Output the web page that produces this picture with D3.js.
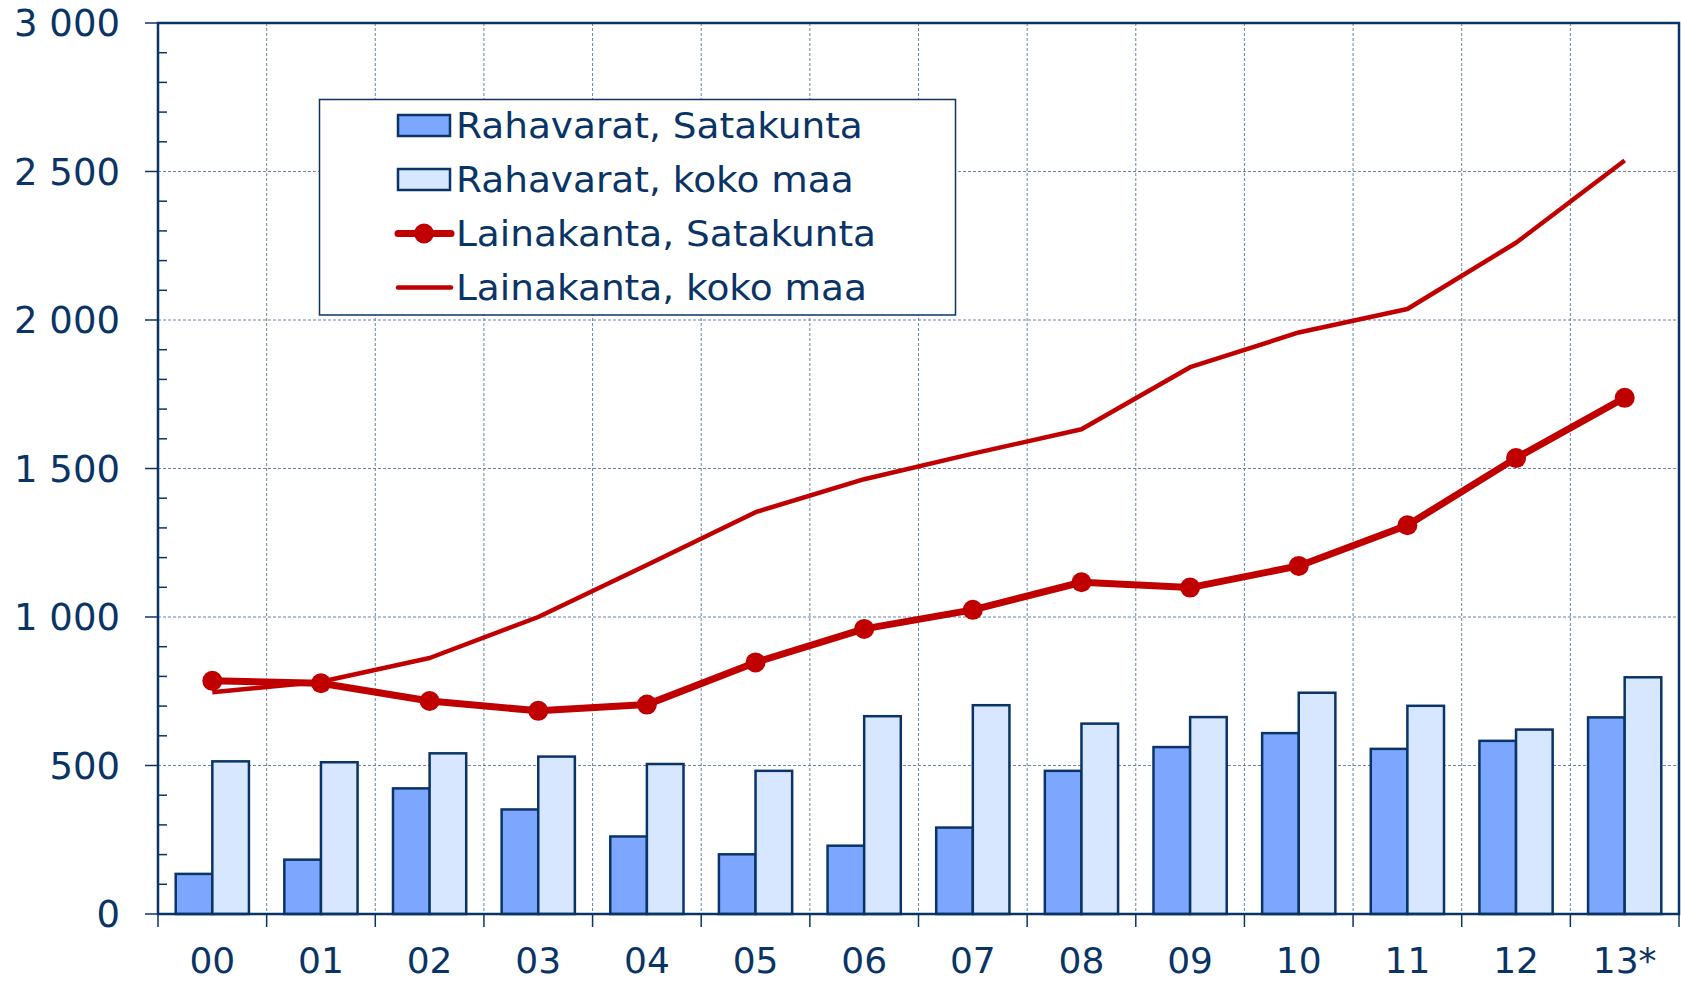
<!DOCTYPE html>
<html>
<head>
<meta charset="utf-8">
<script src="https://cdn.jsdelivr.net/npm/d3@7"></script>
<style>
  body { margin: 0; background: #fff; }
  svg { display: block; font-family: "DejaVu Sans", Verdana, sans-serif; }
</style>
</head>
<body>
<div id="chart-area"></div>
<script>
// chart data
var years = ["00", "01", "02", "03", "04", "05", "06", "07", "08", "09", "10", "11", "12", "13*"];
var rahaSatakunta = [135, 183, 423, 352, 261, 201, 230, 291, 482, 562, 609, 556, 583, 662];
var rahaKokoMaa   = [514, 511, 541, 530, 505, 482, 666, 703, 641, 663, 745, 701, 621, 797];
var lainaSatakunta = [785, 777, 717, 684, 705, 847, 960, 1024, 1117, 1099, 1172, 1309, 1535, 1738];
var lainaKokoMaa   = [747, 782, 862, 1000, 1175, 1353, 1464, 1550, 1632, 1841, 1958, 2037, 2260, 2537];
var yTicks = [0, 500, 1000, 1500, 2000, 2500, 3000];
var legendLabels = ["Rahavarat, Satakunta", "Rahavarat, koko maa", "Lainakanta, Satakunta", "Lainakanta, koko maa"];

var W = 1681, H = 982;
var plotL = 158, plotR = 1679, plotT = 23, plotB = 914;
var navy = "#0b3466", red = "#c00000";
var barFill = ["#7da7ff", "#d6e7ff"];

var svg = d3.select("#chart-area")
    .append("svg")
    .attr("width", W)
    .attr("height", H);

var x = d3.scaleBand()
    .domain(years)
    .range([plotL, plotR])
    .padding(0);

var y = d3.scaleLinear()
    .domain([0, 3000])
    .range([plotB, plotT]);

var bw = x.bandwidth();
var xs = d3.scaleBand()
    .domain([0, 1])
    .range([bw * 0.163, bw * 0.837]);

var fmt = d3.formatLocale({decimal: ",", thousands: " ", grouping: [3], currency: ["", ""]}).format(",");

// grid
var grid = svg.append("g").attr("stroke", "#4f6f99").attr("stroke-width", 1)
    .attr("stroke-dasharray", "3,2").attr("opacity", 0.85);
grid.selectAll("line.h")
    .data(yTicks.filter(function(d){ return d > 0 && d < 3000; }))
    .enter().append("line")
    .attr("x1", plotL).attr("x2", plotR)
    .attr("y1", function(d){ return y(d); })
    .attr("y2", function(d){ return y(d); });
grid.selectAll("line.v")
    .data(years.slice(1))
    .enter().append("line")
    .attr("x1", function(d){ return x(d); })
    .attr("x2", function(d){ return x(d); })
    .attr("y1", plotT).attr("y2", plotB);

// bars
var groups = svg.selectAll("g.year")
    .data(years)
    .enter().append("g")
    .attr("transform", function(d){ return "translate(" + x(d) + ",0)"; });

groups.each(function(d, i) {
    var vals = [rahaSatakunta[i], rahaKokoMaa[i]];
    d3.select(this).selectAll("rect")
        .data(vals)
        .enter().append("rect")
        .attr("x", function(v, j){ return xs(j); })
        .attr("width", xs.bandwidth())
        .attr("y", function(v){ return y(v); })
        .attr("height", function(v){ return plotB - y(v); })
        .attr("fill", function(v, j){ return barFill[j]; })
        .attr("stroke", navy)
        .attr("stroke-width", 2.5);
});

// lines
var cx = function(d, i){ return x(years[i]) + bw / 2; };
var line = d3.line()
    .x(cx)
    .y(function(d){ return y(d); });

svg.append("path")
    .datum(lainaKokoMaa)
    .attr("d", line)
    .attr("fill", "none")
    .attr("stroke", red)
    .attr("stroke-width", 4.5)
    .attr("stroke-linejoin", "round");

svg.append("path")
    .datum(lainaSatakunta)
    .attr("d", line)
    .attr("fill", "none")
    .attr("stroke", red)
    .attr("stroke-width", 7)
    .attr("stroke-linejoin", "round");

svg.selectAll("circle.pt")
    .data(lainaSatakunta)
    .enter().append("circle")
    .attr("cx", cx)
    .attr("cy", function(d){ return y(d); })
    .attr("r", 10)
    .attr("fill", red);

// frame
svg.append("rect")
    .attr("x", plotL).attr("y", plotT)
    .attr("width", plotR - plotL).attr("height", plotB - plotT)
    .attr("fill", "none")
    .attr("stroke", navy)
    .attr("stroke-width", 2.5);

// y axis ticks
var minor = d3.range(0, 3001, 100).filter(function(d){ return d % 500 !== 0; });
svg.selectAll("line.minor")
    .data(minor)
    .enter().append("line")
    .attr("x1", plotL).attr("x2", plotL + 9)
    .attr("y1", function(d){ return y(d); })
    .attr("y2", function(d){ return y(d); })
    .attr("stroke", navy).attr("stroke-width", 1.5);

svg.selectAll("line.major")
    .data(yTicks)
    .enter().append("line")
    .attr("x1", plotL - 13).attr("x2", plotL)
    .attr("y1", function(d){ return y(d); })
    .attr("y2", function(d){ return y(d); })
    .attr("stroke", navy).attr("stroke-width", 1.5);

svg.selectAll("text.ylab")
    .data(yTicks)
    .enter().append("text")
    .attr("x", 120)
    .attr("y", function(d){ return y(d); })
    .attr("dy", "0.36em")
    .attr("text-anchor", "end")
    .attr("font-size", 37)
    .attr("fill", navy)
    .text(function(d){ return fmt(d); });

// x axis ticks
svg.selectAll("line.xt")
    .data(years.concat(["end"]))
    .enter().append("line")
    .attr("x1", function(d){ return d === "end" ? plotR : x(d); })
    .attr("x2", function(d){ return d === "end" ? plotR : x(d); })
    .attr("y1", plotB).attr("y2", plotB + 13)
    .attr("stroke", navy).attr("stroke-width", 1.5);

svg.selectAll("text.xlab")
    .data(years)
    .enter().append("text")
    .attr("x", function(d){ return x(d) + bw / 2; })
    .attr("y", 973)
    .attr("text-anchor", "middle")
    .attr("font-size", 36)
    .attr("fill", navy)
    .text(function(d){ return d; });

// legend
var lg = svg.append("g");
lg.append("rect")
    .attr("x", 319.5).attr("y", 99.5)
    .attr("width", 636).attr("height", 215.5)
    .attr("fill", "#fff")
    .attr("stroke", navy)
    .attr("stroke-width", 1.5);

var rows = lg.selectAll("g.row")
    .data(legendLabels)
    .enter().append("g")
    .attr("transform", function(d, i){ return "translate(0," + (125.5 + i * 54) + ")"; });

rows.append("text")
    .attr("x", 456)
    .attr("dy", "0.36em")
    .attr("font-size", 35)
    .attr("fill", navy)
    .text(function(d){ return d; })
    .each(function() {
        // reference font runs a little wider than DejaVu
        var w = this.getComputedTextLength();
        d3.select(this).attr("textLength", w * 1.07).attr("lengthAdjust", "spacingAndGlyphs");
    });

rows.filter(function(d, i){ return i < 2; })
    .append("rect")
    .attr("x", 398).attr("y", -10.5)
    .attr("width", 52).attr("height", 21)
    .attr("fill", function(d, i){ return barFill[i]; })
    .attr("stroke", navy).attr("stroke-width", 2.5);

rows.filter(function(d, i){ return i >= 2; })
    .append("line")
    .attr("x1", 398).attr("x2", 451)
    .attr("stroke", red)
    .attr("stroke-linecap", "round")
    .attr("stroke-width", function(d, i){ return i === 0 ? 7 : 4.5; });

rows.filter(function(d, i){ return i === 2; })
    .append("circle")
    .attr("cx", 424).attr("r", 10)
    .attr("fill", red);
</script>
</body>
</html>
